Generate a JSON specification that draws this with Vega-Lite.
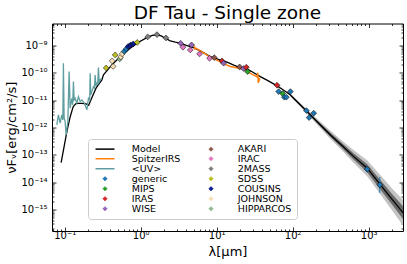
{
  "$schema": "https://vega.github.io/schema/vega-lite/v6.json",
  "width": 351,
  "height": 207.5,
  "autosize": "none",
  "padding": {"left": 52, "top": 23.5, "right": 4, "bottom": 33},
  "title": {"text": "DF Tau - Single zone", "fontSize": 18.5, "fontWeight": "normal", "color": "black", "anchor": "middle", "offset": -3},
  "config": {
    "font": "DejaVu Sans",
    "view": {"stroke": "black", "strokeWidth": 1},
    "axis": {"labelColor": "black", "titleColor": "black", "tickColor": "black", "tickWidth": 0.8, "labelFontSize": 10, "titleFontSize": 13, "titleFontWeight": "normal", "grid": false, "domain": false, "labelFlush": false, "labelOverlap": false},
    "legend": {
      "orient": "none", "legendX": 36, "legendY": 115.5, "columns": 2, "title": null,
      "labelFontSize": 9.5, "labelColor": "black", "labelOffset": 22, "symbolOffset": 7.26, "symbolSize": 20,
      "rowPadding": -4.35, "columnPadding": 18, "padding": 5,
      "strokeColor": "#cccccc", "fillColor": "white", "cornerRadius": 3
    }
  },
  "datasets": {
    "model": [
      {"lam": 0.0897, "flux": 5.18e-14}, {"lam": 0.1066, "flux": 6.9e-13}, {"lam": 0.1178, "flux": 2.44e-12}, {"lam": 0.129, "flux": 5.69e-12}, {"lam": 0.1413, "flux": 7.64e-12}, {"lam": 0.1695, "flux": 7.64e-12}, {"lam": 0.1913, "flux": 7.31e-12}, {"lam": 0.2064, "flux": 6.46e-12}, {"lam": 0.2296, "flux": 1.32e-11}, {"lam": 0.2593, "flux": 2.82e-11}, {"lam": 0.3082, "flux": 5.55e-11}, {"lam": 0.3236, "flux": 8.45e-11}, {"lam": 0.4174, "flux": 1.96e-10}, {"lam": 0.537, "flux": 3.95e-10}, {"lam": 0.7272, "flux": 8.04e-10}, {"lam": 0.9354, "flux": 1.33e-9}, {"lam": 1.207, "flux": 1.96e-9}, {"lam": 1.417, "flux": 2.37e-9}, {"lam": 1.635, "flux": 2.47e-9}, {"lam": 1.862, "flux": 2.26e-9}, {"lam": 2.103, "flux": 1.87e-9}, {"lam": 2.447, "flux": 1.49e-9}, {"lam": 2.848, "flux": 1.33e-9}, {"lam": 3.386, "flux": 1.22e-9}, {"lam": 3.977, "flux": 1.02e-9}, {"lam": 4.963, "flux": 8.45e-10}, {"lam": 6.081, "flux": 6.4e-10}, {"lam": 8.236, "flux": 3.95e-10}, {"lam": 10.5, "flux": 3.13e-10}, {"lam": 13.67, "flux": 2.47e-10}, {"lam": 17.06, "flux": 1.88e-10}, {"lam": 20.46, "flux": 1.56e-10}, {"lam": 25.07, "flux": 1.4e-10}, {"lam": 30.35, "flux": 1.04e-10}, {"lam": 37.53, "flux": 7.31e-11}, {"lam": 47.84, "flux": 5.09e-11}, {"lam": 62.31, "flux": 3.34e-11}, {"lam": 75.43, "flux": 2.38e-11}, {"lam": 93.27, "flux": 1.56e-11}, {"lam": 118.9, "flux": 7.96e-12}, {"lam": 154.8, "flux": 3.82e-12}, {"lam": 218.1, "flux": 1.47e-12}, {"lam": 313.9, "flux": 5.36e-13}, {"lam": 451.7, "flux": 2.12e-13}, {"lam": 636.5, "flux": 8.59e-14}, {"lam": 955.5, "flux": 3.23e-14}, {"lam": 1430, "flux": 7.89e-15}, {"lam": 2059, "flux": 2.23e-15}, {"lam": 2848, "flux": 7.45e-16}
    ],
    "outer": [
      {"lam": 93.27, "lo": 1.38e-11, "hi": 1.77e-11}, {"lam": 154.8, "lo": 3.18e-12, "hi": 4.59e-12}, {"lam": 218.1, "lo": 1.14e-12, "hi": 1.9e-12}, {"lam": 313.9, "lo": 3.79e-13, "hi": 7.57e-13}, {"lam": 451.7, "lo": 1.39e-13, "hi": 3.23e-13}, {"lam": 636.5, "lo": 5.06e-14, "hi": 1.46e-13}, {"lam": 955.5, "lo": 1.64e-14, "hi": 6.34e-14}, {"lam": 1430, "lo": 3.52e-15, "hi": 1.77e-14}, {"lam": 2059, "lo": 8.81e-16, "hi": 5.64e-15}, {"lam": 2848, "lo": 2.49e-16, "hi": 2.23e-15}
    ],
    "inner": [
      {"lam": 93.27, "lo": 1.47e-11, "hi": 1.66e-11}, {"lam": 154.8, "lo": 3.48e-12, "hi": 4.19e-12}, {"lam": 218.1, "lo": 1.3e-12, "hi": 1.67e-12}, {"lam": 313.9, "lo": 4.51e-13, "hi": 6.37e-13}, {"lam": 451.7, "lo": 1.71e-13, "hi": 2.62e-13}, {"lam": 636.5, "lo": 6.59e-14, "hi": 1.12e-13}, {"lam": 955.5, "lo": 2.3e-14, "hi": 4.53e-14}, {"lam": 1430, "lo": 5.27e-15, "hi": 1.18e-14}, {"lam": 2059, "lo": 1.41e-15, "hi": 3.53e-15}, {"lam": 2848, "lo": 4.31e-16, "hi": 1.29e-15}
    ],
    "uv": [
      {"lam": 0.0787, "flux": 1.25e-12}, {"lam": 0.0826, "flux": 2.9e-12}, {"lam": 0.087, "flux": 1.44e-12}, {"lam": 0.0916, "flux": 2.9e-12}, {"lam": 0.0944, "flux": 1.9e-12}, {"lam": 0.0961, "flux": 2.27e-10}, {"lam": 0.0982, "flux": 2.25e-12}, {"lam": 0.1012, "flux": 1.64e-12}, {"lam": 0.1043, "flux": 5.36e-13}, {"lam": 0.1099, "flux": 1.64e-12}, {"lam": 0.1143, "flux": 1.12e-10}, {"lam": 0.1178, "flux": 5.09e-12}, {"lam": 0.124, "flux": 1.18e-11}, {"lam": 0.1271, "flux": 6.73e-12}, {"lam": 0.1302, "flux": 4.8e-11}, {"lam": 0.133, "flux": 1.03e-11}, {"lam": 0.1371, "flux": 1.18e-11}, {"lam": 0.1443, "flux": 7.76e-12}, {"lam": 0.1516, "flux": 1.36e-11}, {"lam": 0.1596, "flux": 8.89e-12}, {"lam": 0.168, "flux": 1.03e-11}, {"lam": 0.1818, "flux": 7.76e-12}, {"lam": 0.1955, "flux": 4.42e-12}, {"lam": 0.2052, "flux": 1.18e-11}, {"lam": 0.2129, "flux": 1.03e-11}, {"lam": 0.2162, "flux": 9.75e-11}, {"lam": 0.2202, "flux": 1.56e-11}, {"lam": 0.2275, "flux": 2.07e-11}, {"lam": 0.2388, "flux": 3.15e-11}, {"lam": 0.2461, "flux": 2.82e-11}, {"lam": 0.2515, "flux": 8.45e-11}, {"lam": 0.2568, "flux": 3.34e-11}, {"lam": 0.2648, "flux": 4.2e-11}, {"lam": 0.2714, "flux": 3.96e-11}, {"lam": 0.278, "flux": 1.56e-10}, {"lam": 0.2839, "flux": 4.68e-11}, {"lam": 0.2926, "flux": 5.55e-11}, {"lam": 0.3082, "flux": 6.4e-11}
    ],
    "irs": [
      {"lam": 5.07, "flux": 1.02e-9}, {"lam": 5.15, "flux": 7.57e-10}, {"lam": 5.38, "flux": 7.89e-10}, {"lam": 6.08, "flux": 6.4e-10}, {"lam": 7.08, "flux": 4.97e-10}, {"lam": 8.24, "flux": 3.7e-10}, {"lam": 9.58, "flux": 3.13e-10}, {"lam": 11.15, "flux": 2.53e-10}, {"lam": 12.98, "flux": 2.05e-10}, {"lam": 15.11, "flux": 1.73e-10}, {"lam": 17.59, "flux": 1.59e-10}, {"lam": 20.46, "flux": 1.46e-10}, {"lam": 23.82, "flux": 1.29e-10}, {"lam": 27.72, "flux": 9.59e-11}, {"lam": 31.29, "flux": 8.1e-11}, {"lam": 33.76, "flux": 7.13e-11}, {"lam": 34.8, "flux": 1.0e-10}, {"lam": 35.33, "flux": 4.31e-11}, {"lam": 36.98, "flux": 6.56e-11}
    ],
    "phot": [
      {"lam": 0.351, "flux": 1.52e-10, "series": "SDSS"},
      {"lam": 0.434, "flux": 1.73e-10, "series": "JOHNSON"},
      {"lam": 0.421, "flux": 2.75e-10, "series": "JOHNSON"},
      {"lam": 0.461, "flux": 4.56e-10, "series": "SDSS"},
      {"lam": 0.529, "flux": 3.26e-10, "series": "HIPPARCOS"},
      {"lam": 0.545, "flux": 3.85e-10, "series": "JOHNSON"},
      {"lam": 0.571, "flux": 4.97e-10, "series": "JOHNSON"},
      {"lam": 0.606, "flux": 6.13e-10, "series": "generic"},
      {"lam": 0.644, "flux": 7.57e-10, "series": "generic"},
      {"lam": 0.684, "flux": 9.35e-10, "series": "COUSINS"},
      {"lam": 0.738, "flux": 1.06e-9, "series": "COUSINS"},
      {"lam": 0.797, "flux": 1.15e-9, "series": "COUSINS"},
      {"lam": 0.899, "flux": 1.31e-9, "series": "SDSS"},
      {"lam": 1.236, "flux": 2.08e-9, "series": "2MASS"},
      {"lam": 1.635, "flux": 2.53e-9, "series": "2MASS"},
      {"lam": 2.148, "flux": 1.91e-9, "series": "2MASS"},
      {"lam": 3.35, "flux": 1.22e-9, "series": "WISE"},
      {"lam": 3.6, "flux": 8.73e-10, "series": "IRAC"},
      {"lam": 4.67, "flux": 1.06e-9, "series": "WISE"},
      {"lam": 4.49, "flux": 6.95e-10, "series": "IRAC"},
      {"lam": 5.95, "flux": 4.97e-10, "series": "IRAC"},
      {"lam": 8.06, "flux": 3.45e-10, "series": "IRAC"},
      {"lam": 9.3, "flux": 3.63e-10, "series": "AKARI"},
      {"lam": 11.75, "flux": 2.75e-10, "series": "IRAS"},
      {"lam": 12.33, "flux": 2.27e-10, "series": "WISE"},
      {"lam": 20.03, "flux": 1.66e-10, "series": "AKARI"},
      {"lam": 22.62, "flux": 1.44e-10, "series": "WISE"},
      {"lam": 24.55, "flux": 1.62e-10, "series": "IRAS"},
      {"lam": 25.53, "flux": 1.12e-10, "series": "MIPS"},
      {"lam": 62.3, "flux": 3.54e-11, "series": "IRAS"},
      {"lam": 65.4, "flux": 2.07e-11, "series": "generic"},
      {"lam": 73.8, "flux": 1.75e-11, "series": "MIPS"},
      {"lam": 77.7, "flux": 1.29e-11, "series": "generic"},
      {"lam": 82.6, "flux": 1.29e-11, "series": "generic"},
      {"lam": 93.3, "flux": 2.07e-11, "series": "generic"},
      {"lam": 151.5, "flux": 4.16e-12, "series": "generic"},
      {"lam": 164.5, "flux": 2.31e-12, "series": "generic"},
      {"lam": 189.1, "flux": 3.34e-12, "series": "generic"},
      {"lam": 955.5, "flux": 2.97e-14, "lo": 2.36e-14, "hi": 3.74e-14, "series": "generic"},
      {"lam": 1400, "flux": 7.89e-15, "lo": 4.05e-15, "hi": 1.54e-14, "series": "generic"}
    ]
  },
  "layer": [
    {
      "data": {"name": "outer"},
      "mark": {"type": "area", "color": "#c4c4c4", "clip": true},
      "encoding": {
        "x": {"field": "lam", "type": "quantitative", "scale": {"type": "log", "domain": [0.068, 2830], "nice": false},
          "axis": {"orient": "top", "labels": false, "title": null, "values": [0.07,0.08,0.09,0.1,0.2,0.3,0.4,0.5,0.6,0.7,0.8,0.9,1,2,3,4,5,6,7,8,9,10,20,30,40,50,60,70,80,90,100,200,300,400,500,600,700,800,900,1000,2000],
            "tickSize": {"condition": {"test": "indexof([0.1,1,10,100,1000], datum.value) >= 0", "value": -4}, "value": -2}}},
        "y": {"field": "lo", "type": "quantitative", "scale": {"type": "log", "domain": [1.62e-16, 6.46e-9], "nice": false},
          "axis": {"orient": "right", "labels": false, "title": null, "values": [2e-16,3e-16,4e-16,5e-16,6e-16,7e-16,8e-16,9e-16,1e-15,2e-15,3e-15,4e-15,5e-15,6e-15,7e-15,8e-15,9e-15,1e-14,2e-14,3e-14,4e-14,5e-14,6e-14,7e-14,8e-14,9e-14,1e-13,2e-13,3e-13,4e-13,5e-13,6e-13,7e-13,8e-13,9e-13,1e-12,2e-12,3e-12,4e-12,5e-12,6e-12,7e-12,8e-12,9e-12,1e-11,2e-11,3e-11,4e-11,5e-11,6e-11,7e-11,8e-11,9e-11,1e-10,2e-10,3e-10,4e-10,5e-10,6e-10,7e-10,8e-10,9e-10,1e-9,2e-9,3e-9,4e-9,5e-9,6e-9],
            "tickSize": {"condition": {"test": "indexof([1e-15,1e-14,1e-13,1e-12,1e-11,1e-10,1e-9], datum.value) >= 0", "value": -4}, "value": -2}}},
        "y2": {"field": "hi"}
      }
    },
    {
      "data": {"name": "inner"},
      "mark": {"type": "area", "color": "#6a6a6a", "clip": true},
      "encoding": {
        "x": {"field": "lam", "type": "quantitative", "scale": {"type": "log", "domain": [0.068, 2830], "nice": false}, "axis": null},
        "y": {"field": "lo", "type": "quantitative", "scale": {"type": "log", "domain": [1.62e-16, 6.46e-9], "nice": false}, "axis": null},
        "y2": {"field": "hi"}
      }
    },
    {
      "data": {"name": "model"},
      "transform": [{"calculate": "'Model'", "as": "series"}],
      "mark": {"type": "line", "strokeWidth": 1.3, "clip": true},
      "encoding": {
        "x": {"field": "lam", "type": "quantitative", "scale": {"type": "log", "domain": [0.068, 2830], "nice": false},
          "axis": {"orient": "bottom", "title": "λ[μm]", "titlePadding": 3, "labelPadding": 3.5,
            "values": [0.07,0.08,0.09,0.1,0.2,0.3,0.4,0.5,0.6,0.7,0.8,0.9,1,2,3,4,5,6,7,8,9,10,20,30,40,50,60,70,80,90,100,200,300,400,500,600,700,800,900,1000,2000],
            "labelExpr": "datum.value == 0.1 ? '10⁻¹' : datum.value == 1 ? '10⁰' : datum.value == 10 ? '10¹' : datum.value == 100 ? '10²' : datum.value == 1000 ? '10³' : ''",
            "tickSize": {"condition": {"test": "indexof([0.1,1,10,100,1000], datum.value) >= 0", "value": -4}, "value": -2}}},
        "y": {"field": "flux", "type": "quantitative", "scale": {"type": "log", "domain": [1.62e-16, 6.46e-9], "nice": false},
          "axis": {"orient": "left", "title": "νFᵥ[erg/cm²/s]", "titlePadding": 2, "labelPadding": 9,
            "values": [2e-16,3e-16,4e-16,5e-16,6e-16,7e-16,8e-16,9e-16,1e-15,2e-15,3e-15,4e-15,5e-15,6e-15,7e-15,8e-15,9e-15,1e-14,2e-14,3e-14,4e-14,5e-14,6e-14,7e-14,8e-14,9e-14,1e-13,2e-13,3e-13,4e-13,5e-13,6e-13,7e-13,8e-13,9e-13,1e-12,2e-12,3e-12,4e-12,5e-12,6e-12,7e-12,8e-12,9e-12,1e-11,2e-11,3e-11,4e-11,5e-11,6e-11,7e-11,8e-11,9e-11,1e-10,2e-10,3e-10,4e-10,5e-10,6e-10,7e-10,8e-10,9e-10,1e-9,2e-9,3e-9,4e-9,5e-9,6e-9],
            "labelExpr": "datum.value == 1e-15 ? '10⁻¹⁵' : datum.value == 1e-14 ? '10⁻¹⁴' : datum.value == 1e-13 ? '10⁻¹³' : datum.value == 1e-12 ? '10⁻¹²' : datum.value == 1e-11 ? '10⁻¹¹' : datum.value == 1e-10 ? '10⁻¹⁰' : datum.value == 1e-9 ? '10⁻⁹' : ''",
            "tickSize": {"condition": {"test": "indexof([1e-15,1e-14,1e-13,1e-12,1e-11,1e-10,1e-9], datum.value) >= 0", "value": -4}, "value": -2}}},
        "color": {"field": "series", "type": "nominal"}
      }
    },
    {
      "data": {"name": "irs"},
      "transform": [{"calculate": "'SpitzerIRS'", "as": "series"}],
      "mark": {"type": "line", "strokeWidth": 1.5, "clip": true},
      "encoding": {
        "x": {"field": "lam", "type": "quantitative", "scale": {"type": "log", "domain": [0.068, 2830], "nice": false}, "axis": null},
        "y": {"field": "flux", "type": "quantitative", "scale": {"type": "log", "domain": [1.62e-16, 6.46e-9], "nice": false}, "axis": null},
        "color": {"field": "series", "type": "nominal"}
      }
    },
    {
      "data": {"name": "uv"},
      "transform": [{"calculate": "'<UV>'", "as": "series"}],
      "mark": {"type": "line", "strokeWidth": 1.3, "clip": true},
      "encoding": {
        "x": {"field": "lam", "type": "quantitative", "scale": {"type": "log", "domain": [0.068, 2830], "nice": false}, "axis": null},
        "y": {"field": "flux", "type": "quantitative", "scale": {"type": "log", "domain": [1.62e-16, 6.46e-9], "nice": false}, "axis": null},
        "color": {"field": "series", "type": "nominal"}
      }
    },
    {
      "data": {"name": "phot"},
      "transform": [{"filter": "isValid(datum.lo)"}],
      "mark": {"type": "rule", "strokeWidth": 1},
      "encoding": {
        "x": {"field": "lam", "type": "quantitative", "scale": {"type": "log", "domain": [0.068, 2830], "nice": false}, "axis": null},
        "y": {"field": "lo", "type": "quantitative", "scale": {"type": "log", "domain": [1.62e-16, 6.46e-9], "nice": false}, "axis": null},
        "y2": {"field": "hi"},
        "color": {"field": "series", "type": "nominal"}
      }
    },
    {
      "data": {"name": "phot"},
      "mark": {"type": "point", "filled": true, "stroke": "black", "opacity": 1, "size": 34},
      "encoding": {
        "x": {"field": "lam", "type": "quantitative", "scale": {"type": "log", "domain": [0.068, 2830], "nice": false}, "axis": null},
        "y": {"field": "flux", "type": "quantitative", "scale": {"type": "log", "domain": [1.62e-16, 6.46e-9], "nice": false}, "axis": null},
        "color": {"field": "series", "type": "nominal",
          "scale": {
            "domain": ["Model", "SpitzerIRS", "<UV>", "generic", "MIPS", "IRAS", "WISE", "AKARI", "IRAC", "2MASS", "SDSS", "COUSINS", "JOHNSON", "HIPPARCOS"],
            "range": ["#000000", "#ff7f0e", "#5f9ea0", "#1f77b4", "#2ca02c", "#d62728", "#9467bd", "#8c564b", "#e377c2", "#7f7f7f", "#bcbd22", "#0a1a8c", "#f5deb3", "#8fbc8f"]
          }
        },
        "shape": {"field": "series", "type": "nominal",
          "scale": {
            "domain": ["Model", "SpitzerIRS", "<UV>", "generic", "MIPS", "IRAS", "WISE", "AKARI", "IRAC", "2MASS", "SDSS", "COUSINS", "JOHNSON", "HIPPARCOS"],
            "range": ["M-4.25,0H4.25", "M-4.25,0H4.25", "M-4.25,0H4.25", "diamond", "diamond", "diamond", "diamond", "diamond", "diamond", "diamond", "diamond", "diamond", "diamond", "diamond"]
          }
        },
        "strokeWidth": {"field": "series", "type": "nominal",
          "scale": {"type": "ordinal",
            "domain": ["Model", "SpitzerIRS", "<UV>", "generic", "MIPS", "IRAS", "WISE", "AKARI", "IRAC", "2MASS", "SDSS", "COUSINS", "JOHNSON", "HIPPARCOS"],
            "range": [1.5, 1.5, 1.5, 0.5, 0.5, 0.5, 0.5, 0.5, 0.5, 0.5, 0.5, 0.5, 0.5, 0.5]
          }
        }
      }
    }
  ],
  "resolve": {"axis": {"x": "independent", "y": "independent"}}
}
